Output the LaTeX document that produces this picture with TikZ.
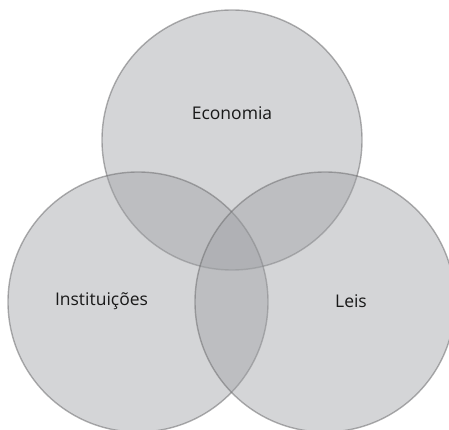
\documentclass[tikz,border=0pt]{standalone}
\usepackage{fontspec}
\setmainfont{Open Sans}
\definecolor{vfill}{RGB}{160,162,166}
\definecolor{vline}{RGB}{110,110,112}
\begin{document}
\begin{tikzpicture}[x=1pt,y=-1pt,
  venn/.style={circle,minimum size=260pt,inner sep=0pt,fill=vfill,fill opacity=0.45,draw=vline,draw opacity=0.55,line width=1.4pt},
  lbl/.style={font=\fontsize{17.5}{20}\selectfont,text=black!90}]
\useasboundingbox (0,0) rectangle (449,430);
\node[venn] (top) at (232,140) {};
\node[venn] (left) at (138,302) {};
\node[venn] (right) at (325,302) {};
\node[lbl] (eco) at (232,113) {Economia};
\node[lbl] (inst) at (101.5,301) {Instituições};
\node[lbl] (leis) at (351,301) {Leis};
\end{tikzpicture}
\end{document}
